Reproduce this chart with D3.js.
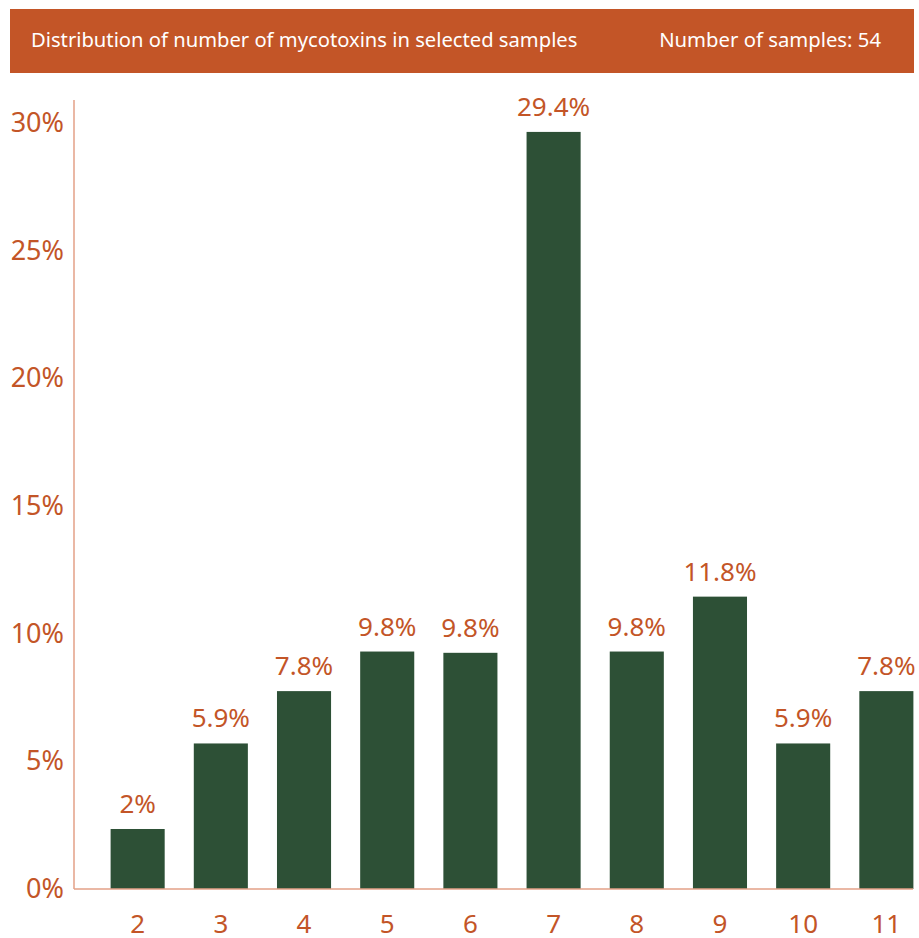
<!DOCTYPE html>
<html>
<head>
<meta charset="utf-8">
<script src="https://cdn.jsdelivr.net/npm/d3@7"></script>
<style>
  body { margin: 0; background: #fff; }
  text { font-family: "Noto Sans", "Open Sans", sans-serif; }
</style>
</head>
<body>
<svg id="chart" width="919" height="938"></svg>
<script>
const categories = ["2", "3", "4", "5", "6", "7", "8", "9", "10", "11"];
const values = [2.35, 5.7, 7.75, 9.3, 9.25, 29.65, 9.3, 11.45, 5.7, 7.75];
const valueLabels = ["2%", "5.9%", "7.8%", "9.8%", "9.8%", "29.4%", "9.8%", "11.8%", "5.9%", "7.8%"];
const yTicks = [0, 5, 10, 15, 20, 25, 30];
const title = "Distribution of number of mycotoxins in selected samples";
const sampleNote = "Number of samples: 54";

const orange = "#c35527";
const green = "#2d5036";

const svg = d3.select("#chart");

// header band
svg.append("rect")
  .attr("x", 10).attr("y", 9)
  .attr("width", 904).attr("height", 64)
  .attr("fill", orange);

svg.append("text")
  .attr("x", 31).attr("y", 47)
  .attr("fill", "#fff")
  .attr("font-size", 20.2)
  .text(title);

svg.append("text")
  .attr("x", 881).attr("y", 47)
  .attr("text-anchor", "end")
  .attr("fill", "#fff")
  .attr("font-size", 20.3)
  .text(sampleNote);

const x = d3.scaleBand()
  .domain(categories)
  .range([74, 950])
  .paddingInner(0.35)
  .paddingOuter(0.44);

const y = d3.scaleLinear()
  .domain([0, 30.9])
  .range([889, 100]);

const plot = svg.append("g");

plot.selectAll("rect.bar")
  .data(values)
  .enter()
  .append("rect")
  .attr("class", "bar")
  .attr("x", (d, i) => x(categories[i]))
  .attr("y", (d) => y(d))
  .attr("width", x.bandwidth())
  .attr("height", (d) => y(0) - y(d))
  .attr("fill", green);

plot.selectAll("text.val")
  .data(values)
  .enter()
  .append("text")
  .attr("class", "val")
  .attr("x", (d, i) => x(categories[i]) + x.bandwidth() / 2)
  .attr("y", (d) => y(d) - 16)
  .attr("text-anchor", "middle")
  .attr("fill", orange)
  .attr("font-size", 26)
  .text((d, i) => valueLabels[i]);

// y axis
const yAxis = d3.axisLeft(y)
  .tickValues(yTicks)
  .tickFormat((d) => d + "%")
  .tickSize(0)
  .tickPadding(10);

const gy = svg.append("g")
  .attr("transform", "translate(74,0)")
  .call(yAxis);
gy.select(".domain").remove();
gy.selectAll("text")
  .attr("fill", orange)
  .attr("font-size", 27)
  .attr("font-family", "Noto Sans, Open Sans, sans-serif");

svg.append("line")
  .attr("x1", 74).attr("x2", 74)
  .attr("y1", y.range()[1]).attr("y2", y(0))
  .attr("stroke", "#e3a187").attr("stroke-width", 1.5);

// x axis
const xAxis = d3.axisBottom(x).tickSize(0).tickPadding(26);
const gx = svg.append("g")
  .attr("transform", `translate(0,${y(0)})`)
  .call(xAxis);
gx.select(".domain").remove();
gx.selectAll("text")
  .attr("fill", orange)
  .attr("font-size", 26)
  .attr("font-family", "Noto Sans, Open Sans, sans-serif");

svg.append("line")
  .attr("x1", 74).attr("x2", 913)
  .attr("y1", y(0)).attr("y2", y(0))
  .attr("stroke", "#e3a187").attr("stroke-width", 1.5);
</script>
</body>
</html>
